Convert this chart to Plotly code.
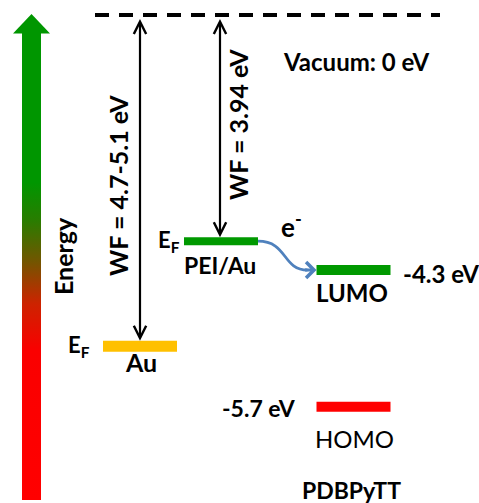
import plotly.graph_objects as go

# ---------------- data ----------------
# energy levels: label, value shown in the picture (eV), schematic drawn level (eV-like axis units)
level_names = ["Vacuum", "PEI/Au", "LUMO", "Au", "HOMO"]
level_values_ev = [0.0, -3.94, -4.3, -4.9, -5.7]
level_drawn = [0.0, -3.77, -4.25, -5.52, -6.53]
level_colors = ["#000000", "#009900", "#009900", "#FFC000", "#FF0000"]
work_functions = ["WF = 4.7-5.1 eV", "WF = 3.94 eV"]
value_labels = ["-4.3 eV", "-5.7 eV"]

# ---------------- layout helpers ----------------
W, H = 479, 503
PX = 1 / 60.0              # axis units per pixel (vertical)
Y_TOP = 15 * PX            # vacuum level sits 15 px below top


def ypx(p):
    """pixel row -> y axis value"""
    return Y_TOP - p * PX


lv = dict(zip(level_names, level_drawn))
col = dict(zip(level_names, level_colors))
bar_half = 37
cx = {"Au": 140, "PEI/Au": 221, "LUMO": 353.5, "HOMO": 353.5}
thick = {"Au": 11, "PEI/Au": 8, "LUMO": 10, "HOMO": 10}

fig = go.Figure()

# gradient energy arrow (shaft)
shaft_top, shaft_bot = ypx(33), ypx(500)
fig.add_trace(go.Scatter(
    x=[22, 41, 41, 22, 22], y=[shaft_bot, shaft_bot, shaft_top, shaft_top, shaft_bot],
    mode="lines", line=dict(width=0), fill="toself",
    fillgradient=dict(type="vertical", start=shaft_bot, stop=shaft_top,
                      colorscale=[[0, "rgb(255,0,0)"], [0.32, "rgb(250,0,0)"],
                                  [0.42, "rgb(205,35,0)"], [0.51, "rgb(115,85,0)"],
                                  [0.60, "rgb(40,125,0)"], [0.68, "rgb(0,150,0)"],
                                  [1, "rgb(0,150,0)"]]),
    hoverinfo="skip", showlegend=False))
# arrow head
fig.add_trace(go.Scatter(
    x=[13, 31.5, 50, 13], y=[ypx(33.5), ypx(14), ypx(33.5), ypx(33.5)],
    mode="lines", line=dict(width=0), fill="toself", fillcolor="rgb(0,150,0)",
    hoverinfo="skip", showlegend=False))

# vacuum dashed line
fig.add_shape(type="line", x0=95, x1=440, y0=lv["Vacuum"], y1=lv["Vacuum"],
              line=dict(color="black", width=4, dash="14px,10px"))

# energy level bars
for name in ["PEI/Au", "LUMO", "Au", "HOMO"]:
    fig.add_trace(go.Scatter(
        x=[cx[name] - bar_half, cx[name] + bar_half], y=[lv[name], lv[name]],
        mode="lines", line=dict(color=col[name], width=thick[name]),
        hoverinfo="skip", showlegend=False))

ann = []
# work-function double arrows
for name, x in [("Au", 140), ("PEI/Au", 220)]:
    ann.append(dict(x=x, y=lv[name] + thick[name] / 2 * PX, ax=x, ay=lv["Vacuum"] - 2.5 * PX,
                    xref="x", yref="y", axref="x", ayref="y", showarrow=True,
                    arrowhead=5, startarrowhead=5, arrowside="end+start",
                    arrowwidth=2.2, arrowsize=1.1, startarrowsize=1.1,
                    arrowcolor="black", standoff=0, startstandoff=0, text=""))

# blue electron transfer curve
x0, y0 = cx["PEI/Au"] + bar_half, lv["PEI/Au"]
x1, y1 = cx["LUMO"] - bar_half - 5, lv["LUMO"]
fig.add_shape(type="path",
              path=f"M {x0},{y0} C {x0 + 30},{y0} {x0 + 24},{y1} {x1 - 4},{y1}",
              line=dict(color="#4F81BD", width=2.8))
ann.append(dict(x=cx["LUMO"] - bar_half, y=y1, ax=x1 - 8, ay=y1,
                xref="x", yref="y", axref="x", ayref="y", showarrow=True,
                arrowhead=4, arrowwidth=2.8, arrowsize=1.1, arrowcolor="#4F81BD",
                standoff=0, text=""))

F = "Lato"


def txt(text, x, y, size, xanchor="center", angle=0, bold=True, yshift=0):
    ann.append(dict(text=text, x=x, y=y, xref="x", yref="y", showarrow=False,
                    xanchor=xanchor, yanchor="middle", textangle=angle, yshift=yshift,
                    font=dict(family=F, size=size, color="black",
                              weight="bold" if bold else "normal")))


txt("Vacuum: 0 eV", 356, ypx(61), 24)
txt(work_functions[0], 118, ypx(186), 25, angle=-90)
txt(work_functions[1], 238, ypx(125), 25, angle=-90)
txt("Energy", 63, ypx(256), 25, angle=-90)
txt("E<sub>F</sub>", 92, lv["Au"], 22, xanchor="right")
txt("E<sub>F</sub>", 182, lv["PEI/Au"], 22, xanchor="right")
txt("PEI/Au", 220, lv["PEI/Au"], 23, yshift=-24)
txt("Au", 141, lv["Au"], 25, yshift=-16)
txt("LUMO", 352, lv["LUMO"], 24, yshift=-22)
txt(value_labels[0], 401, lv["LUMO"], 24, xanchor="left", yshift=-3)
txt(value_labels[1], 298, lv["HOMO"], 23, xanchor="right", yshift=-1)
txt("HOMO", 354, lv["HOMO"], 24, bold=False, yshift=-32)
txt("PDBPyTT", 351, ypx(490), 23)
txt("e<sup>-</sup>", 291, ypx(225), 26)

fig.update_layout(
    width=W, height=H, margin=dict(l=0, r=0, t=0, b=0),
    paper_bgcolor="white", plot_bgcolor="white",
    xaxis=dict(range=[0, W], visible=False, fixedrange=True),
    yaxis=dict(range=[ypx(H), ypx(0)], visible=False, fixedrange=True),
    annotations=ann, showlegend=False)

fig.write_html("out.html")
